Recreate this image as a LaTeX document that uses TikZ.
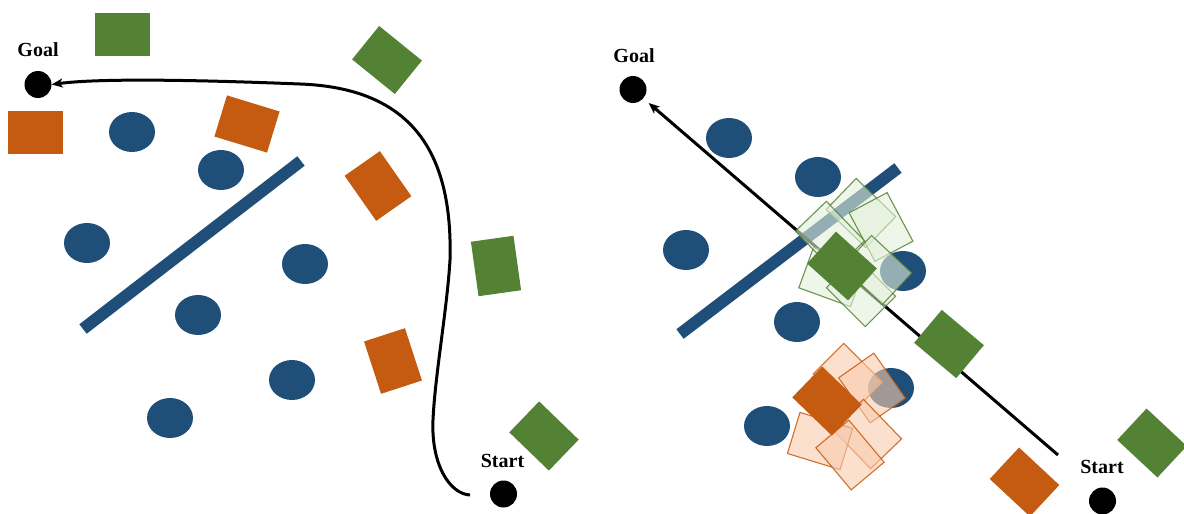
\documentclass[tikz,border=0pt]{standalone}
\usepackage{fontspec}
\setmainfont{Liberation Serif}
\usetikzlibrary{arrows.meta,shapes.geometric}
\definecolor{cblue}{HTML}{1F4E79}
\definecolor{corange}{HTML}{C55A11}
\definecolor{cgreen}{HTML}{548235}
\definecolor{lgreen}{HTML}{E2EFDA}
\definecolor{lorange}{HTML}{F8CBAD}
\begin{document}
\begin{tikzpicture}[x=1pt,y=-1pt,
  obst/.style={ellipse,fill=cblue,minimum width=46pt,minimum height=40pt,inner sep=0pt},
  wall/.style={cblue,line width=12pt},
  blk/.style={rectangle,inner sep=0pt,minimum width=43pt,minimum height=55pt},
  gblk/.style={blk,fill=cgreen},
  oblk/.style={blk,fill=corange},
  lgblk/.style={blk,fill=lgreen,fill opacity=0.6,draw=cgreen,draw opacity=0.85,line width=1.1pt},
  loblk/.style={blk,fill=lorange,fill opacity=0.6,draw=corange,draw opacity=0.85,line width=1.1pt},
  dot/.style={circle,fill=black,minimum size=27pt,inner sep=0pt},
  lbl/.style={font=\bfseries\fontsize{20}{24}\selectfont,anchor=base,inner sep=0pt},
  route/.style={line width=3pt,-{Stealth[length=11pt,width=9pt,inset=3pt]}}
]
\path[use as bounding box] (0,0) rectangle (1184,514);

% ---------------- left panel ----------------
\node[obst] (l1) at (132,132) {};
\node[obst] (l2) at (221,170) {};
\node[obst] (l3) at (87,243) {};
\node[obst] (l4) at (305,264) {};
\node[obst] (l5) at (198,315) {};
\node[obst] (l6) at (292,380) {};
\node[obst] (l7) at (170,418) {};
\coordinate (wl1) at (83,329);
\coordinate (wl2) at (301,161);
\draw[wall] (wl1) -- (wl2);

\node[gblk,rotate=90] (lg1) at (122,34) {};
\node[oblk,rotate=90] (lo1) at (35,132) {};
\node[oblk,rotate=73] (lo2) at (247,124) {};
\node[oblk,rotate=35] (lo3) at (378,186) {};
\node[gblk,rotate=51] (lg2) at (387,60) {};
\node[gblk,rotate=8] (lg3) at (496,266) {};
\node[oblk,rotate=18] (lo4) at (393,361) {};
\node[gblk,rotate=46] (lg4) at (544,436) {};

\node[dot] (gL) at (38,84.5) {};
\node[lbl] (tgL) at (38,56) {Goal};
\node[dot] (sL) at (503.5,494) {};
\node[lbl] (tsL) at (502.5,467) {Start};
\coordinate (pS) at (470,495);
\draw[route] (pS) .. controls (450,494) and (431,465) .. (433,420)
  .. controls (435,375) and (447,310) .. (450,260)
  .. controls (453,150) and (410,88) .. (300,84)
  .. controls (200,80) and (100,78) .. (gL.east);

% ---------------- right panel ----------------
\node[obst] (r1) at (729,138) {};
\node[obst] (r2) at (818,177) {};
\node[obst] (r3) at (686,250) {};
\node[obst] (r4) at (903,271) {};
\node[obst] (r5) at (797,322) {};
\node[obst] (r6) at (891,388) {};
\node[obst] (r7) at (767,426) {};
\coordinate (wr1) at (680,334);
\coordinate (wr2) at (898,168);
\draw[wall] (wr1) -- (wr2);

\node[dot] (gR) at (633,89.5) {};
\node[lbl] (tgR) at (634,62) {Goal};
\node[dot] (sR) at (1102.5,501) {};
\node[lbl] (tsR) at (1102,473) {Start};
\coordinate (aR) at (1058,455);
\draw[route,shorten >=7pt] (aR) -- (gR);

\node[lgblk,rotate=46] (rg1) at (861,213) {};
\node[lgblk,rotate=28] (rg2) at (881,227) {};
\node[lgblk,rotate=70] (rg3) at (832,277) {};
\node[lgblk,rotate=45] (rg4) at (861,292) {};
\node[lgblk,rotate=47] (rg5) at (877,270) {};
\node[lgblk,rotate=44] (rg6) at (830,236) {};
\node[gblk,rotate=48] (rg0) at (842,266) {};

\node[loblk,rotate=45] (ro1) at (848,378) {};
\node[loblk,rotate=35] (ro2) at (872,388) {};
\node[loblk,rotate=44] (ro3) at (867,434) {};
\node[loblk,rotate=73] (ro4) at (820,441) {};
\node[loblk,rotate=40] (ro5) at (850,455) {};
\node[oblk,rotate=46] (ro0) at (827,401) {};

\node[gblk,rotate=50] (rg7) at (949,344) {};
\node[oblk,rotate=47] (ro6) at (1024.5,482) {};
\node[gblk,rotate=47] (rg8) at (1152,443) {};
\end{tikzpicture}
\end{document}
